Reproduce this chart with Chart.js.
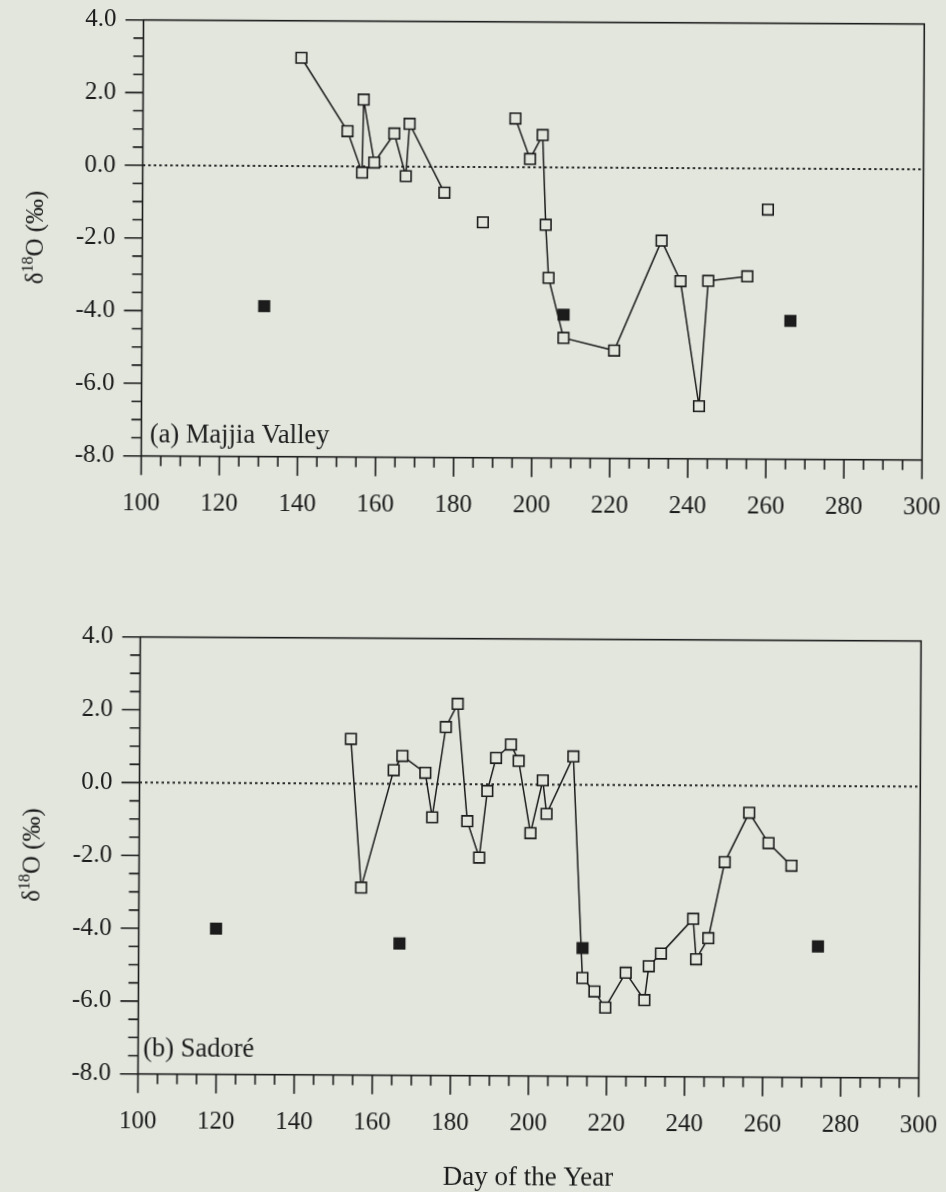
<!DOCTYPE html>
<html>
<head>
<meta charset="utf-8">
<title>δ18O of rainfall – Majjia Valley and Sadoré</title>
<script src="https://cdn.jsdelivr.net/npm/chart.js@4.4.1/dist/chart.umd.min.js"></script>
<style>
  html, body { margin: 0; padding: 0; background: #e2e6dd; }
  #sheet { position: relative; width: 946px; height: 1192px; overflow: hidden; background: #e2e6dd; }
  #page { position: absolute; left: 0; top: 0; width: 946px; height: 1192px;
          transform: rotate(0.3deg); transform-origin: 473px 596px; }
  canvas { position: absolute; left: 0; }
  #chartA { top: 0; }
  #chartB { top: 600px; }
</style>
</head>
<body>
<div id="sheet">
  <div id="page">
    <canvas id="chartA" width="946" height="560" style="width:946px;height:560px"></canvas>
    <canvas id="chartB" width="946" height="592" style="width:946px;height:592px"></canvas>
  </div>
</div>
<script>
// ---- axis ranges and tick labels ----
const dayTicks = [100, 120, 140, 160, 180, 200, 220, 240, 260, 280, 300];
const deltaTicks = [-8.0, -6.0, -4.0, -2.0, 0.0, 2.0, 4.0];

// ---- (a) Majjia Valley ----
// connected runs of open squares
const majjiaRun1Days = [140.5, 152.4, 156.2, 156.5, 159.3, 164.4, 167.4, 168.3, 177.3];
const majjiaRun1Vals = [2.98, 0.97, -0.17, 1.84, 0.11, 0.91, -0.26, 1.18, -0.71];
const majjiaRun2Days = [195.4, 199.2, 202.4, 203.3, 204.1, 208.0, 221.0, 233.0, 237.9, 242.8, 245.0, 255.0];
const majjiaRun2Vals = [1.34, 0.23, 0.89, -1.58, -3.04, -4.69, -5.03, -2.00, -3.11, -6.55, -3.10, -2.97];
// unconnected open squares
const majjiaLoneDays = [187.2, 260.2];
const majjiaLoneVals = [-1.52, -1.13];
// filled squares
const majjiaFilledDays = [131.3, 208.0, 266.1];
const majjiaFilledVals = [-3.86, -4.05, -4.19];

// ---- (b) Sadoré ----
const sadoreDays = [154.1, 156.9, 165.1, 167.3, 173.2, 175.0, 178.4, 181.4, 184.0, 187.1, 189.1,
                    191.3, 195.1, 197.1, 200.2, 203.3, 204.3, 211.1, 213.7, 216.8, 219.6, 224.8,
                    229.6, 230.7, 233.8, 242.0, 242.8, 245.9, 250.0, 256.2, 261.2, 267.1];
const sadoreVals = [1.23, -2.85, 0.38, 0.77, 0.31, -0.91, 1.57, 2.21, -1.01, -2.01, -0.18,
                    0.73, 1.10, 0.65, -1.33, 0.12, -0.80, 0.78, -5.30, -5.67, -6.11, -5.15,
                    -5.90, -4.97, -4.62, -3.66, -4.77, -4.19, -2.10, -0.74, -1.57, -2.19];
const sadoreFilledDays = [119.8, 166.8, 213.7, 274.0];
const sadoreFilledVals = [-4.00, -4.38, -4.48, -4.40];

// reference line at zero
const zeroLineDays = [100, 300];
const zeroLineVals = [0, 0];

// ---- styling ----
const PAPER = '#e2e6dd';
const INK = '#1c1c1c';
const FONT = '"Liberation Serif", "Times New Roman", serif';

Chart.defaults.font.family = FONT;
Chart.defaults.color = INK;

const pts = (xs, ys) => xs.map((d, i) => ({ x: d, y: ys[i] }));

function openRun(xs, ys, line) {
  return {
    data: pts(xs, ys), showLine: line, borderColor: INK, borderWidth: 1.5,
    pointStyle: 'rect', pointRadius: 7.5, pointBorderWidth: 1.6,
    pointBackgroundColor: PAPER, pointBorderColor: INK, pointHoverRadius: 7.5
  };
}
function filledSet(xs, ys) {
  return {
    data: pts(xs, ys), showLine: false,
    pointStyle: 'rect', pointRadius: 7.5, pointBorderWidth: 1.5,
    pointBackgroundColor: INK, pointBorderColor: INK, pointHoverRadius: 7.5
  };
}
function zeroSet() {
  return {
    data: pts(zeroLineDays, zeroLineVals), showLine: true, borderColor: '#2a2a2a',
    borderWidth: 2, borderDash: [2.5, 3], pointRadius: 0, pointHoverRadius: 0
  };
}

// frame, minor/major tick marks, panel label and axis titles
const framePlugin = {
  id: 'frame',
  beforeDatasetsDraw(chart) {
    const { ctx, chartArea: a, scales: { x, y } } = chart;
    ctx.save();
    ctx.strokeStyle = INK;
    ctx.lineWidth = 1.6;
    ctx.strokeRect(a.left, a.top, a.right - a.left, a.bottom - a.top);
    ctx.beginPath();
    for (let d = x.min; d <= x.max; d += 5) {
      const px = x.getPixelForValue(d);
      const len = d % 20 === 0 ? 19 : 10;
      ctx.moveTo(px, a.bottom);
      ctx.lineTo(px, a.bottom + len);
    }
    for (let v = y.min; v <= y.max + 1e-9; v += 0.5) {
      const py = y.getPixelForValue(v);
      const len = Math.abs(v % 2) < 1e-9 ? 18 : 10;
      ctx.moveTo(a.left, py);
      ctx.lineTo(a.left - len, py);
    }
    ctx.stroke();
    ctx.restore();
  },
  afterDraw(chart, args, opts) {
    const { ctx, chartArea: a } = chart;
    ctx.save();
    ctx.fillStyle = INK;
    // panel label
    ctx.font = '26.5px ' + FONT;
    ctx.textAlign = 'left';
    ctx.textBaseline = 'alphabetic';
    ctx.fillText(opts.label, a.left + opts.labelDx, a.bottom - opts.labelDy);

    // y title: δ18O (‰) with raised 18
    ctx.translate(opts.yTitleX, (a.top + a.bottom) / 2);
    ctx.rotate(-Math.PI / 2);
    const big = '25px ' + FONT, small = '16px ' + FONT;
    const parts = [['δ', big, 0], ['18', small, -9.5], ['O (‰)', big, 0]];
    let total = 0;
    parts.forEach(p => { ctx.font = p[1]; total += ctx.measureText(p[0]).width; });
    let cx = -total / 2;
    parts.forEach(p => {
      ctx.font = p[1];
      ctx.fillText(p[0], cx, 8.5 + p[2]);
      cx += ctx.measureText(p[0]).width;
    });
    ctx.restore();

    if (opts.xTitle) {
      ctx.save();
      ctx.fillStyle = INK;
      ctx.font = '27px ' + FONT;
      ctx.textAlign = 'center';
      ctx.textBaseline = 'middle';
      ctx.fillText(opts.xTitle, (a.left + a.right) / 2, opts.xTitleY);
      ctx.restore();
    }
  }
};

function makePanel(canvasId, datasets, geo, frameOpts) {
  return new Chart(document.getElementById(canvasId), {
    type: 'scatter',
    data: { datasets },
    plugins: [framePlugin],
    options: {
      responsive: false,
      animation: false,
      devicePixelRatio: 1,
      layout: { padding: { left: 0, top: geo.top, right: geo.right, bottom: 0 } },
      plugins: { legend: { display: false }, tooltip: { enabled: false }, frame: frameOpts },
      scales: {
        x: {
          type: 'linear', min: dayTicks[0], max: dayTicks[dayTicks.length - 1],
          grid: { display: false, drawTicks: false },
          border: { display: false },
          afterBuildTicks: s => { s.ticks = dayTicks.map(v => ({ value: v })); },
          ticks: { autoSkip: false, maxRotation: 0, padding: geo.xPad,
                   font: { size: 25, family: FONT }, color: INK,
                   callback: v => String(v) },
          afterFit: s => { s.height = geo.xHeight; s.paddingLeft = 0; s.paddingRight = 0; }
        },
        y: {
          type: 'linear', min: deltaTicks[0], max: deltaTicks[deltaTicks.length - 1],
          grid: { display: false, drawTicks: false },
          border: { display: false },
          afterBuildTicks: s => { s.ticks = deltaTicks.map(v => ({ value: v })); },
          ticks: { padding: geo.yPad, font: { size: 25, family: FONT }, color: INK,
                   callback: v => Number(v).toFixed(1) },
          afterFit: s => { s.width = geo.left; s.paddingTop = 0; s.paddingBottom = 0; }
        }
      }
    }
  });
}

makePanel('chartA', [
  filledSet(majjiaFilledDays, majjiaFilledVals),
  openRun(majjiaRun1Days, majjiaRun1Vals, true),
  openRun(majjiaRun2Days, majjiaRun2Vals, true),
  openRun(majjiaLoneDays, majjiaLoneVals, false),
  zeroSet()
], { left: 140.5, right: 946 - 921.3, top: 21.7, xHeight: 560 - 457.7, xPad: 33, yPad: 27 },
   { label: '(a) Majjia Valley', labelDx: 8.5, labelDy: 14, yTitleX: 32 });

makePanel('chartB', [
  filledSet(sadoreFilledDays, sadoreFilledVals),
  openRun(sadoreDays, sadoreVals, true),
  zeroSet()
], { left: 140.5, right: 946 - 921.3, top: 38.7, xHeight: 592 - 475.7, xPad: 33, yPad: 27 },
   { label: '(b) Sadoré', labelDx: 5, labelDy: 18, yTitleX: 32,
     xTitle: 'Day of the Year', xTitleY: 577.7 });
</script>
</body>
</html>
